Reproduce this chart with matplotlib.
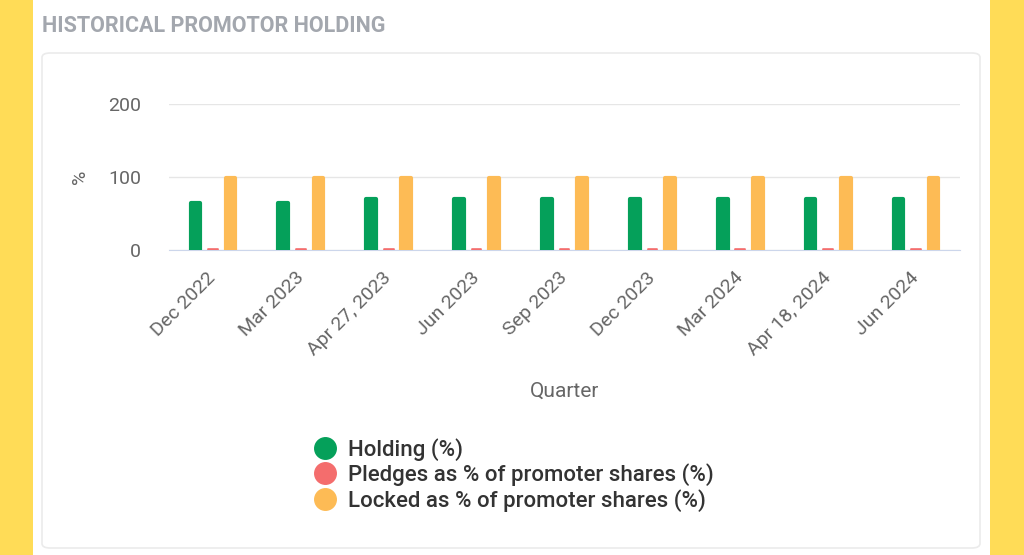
""" Historical promotor holding chart """

import matplotlib.pyplot as plt
from matplotlib import patches
import numpy as np

quarters = ["Dec 2022", "Mar 2023", "Apr 27, 2023", "Jun 2023", "Sep 2023",
            "Dec 2023", "Mar 2024", "Apr 18, 2024", "Jun 2024"]
holding = [65, 65, 70.5, 70.5, 70.5, 70.5, 70.5, 70.5, 70.5]
pledges = [1.5, 1.5, 1.5, 1.5, 1.5, 1.5, 1.5, 1.5, 1.5]
locked = [98.5, 98.5, 98.5, 98.5, 98.5, 98.5, 98.5, 98.5, 98.5]

series = [
    ("Holding (%)", holding, "#05a05a"),
    ("Pledges as % of promoter shares (%)", pledges, "#f46d6d"),
    ("Locked as % of promoter shares (%)", locked, "#fdbb55"),
]

plt.rcParams['font.family'] = ['Roboto', 'DejaVu Sans']

fig = plt.figure(figsize=(10.24, 5.55), dpi=100, facecolor="#ffdc57")

# white page and the card border
fig.patches.append(patches.Rectangle((33 / 1024, 0), 957 / 1024, 1,
                                     transform=fig.transFigure,
                                     facecolor="white", edgecolor="none", zorder=-3))
fig.patches.append(patches.FancyBboxPatch((42 / 1024, 7 / 555), 938 / 1024, 495 / 555,
                                          boxstyle="round,pad=0,rounding_size=0.008",
                                          transform=fig.transFigure,
                                          facecolor="white", edgecolor="#ebebeb",
                                          linewidth=1.2, zorder=-2))

fig.text(42 / 1024, 1 - 26 / 555, "HISTORICAL PROMOTOR HOLDING", fontsize=15.5,
         fontweight="bold", color="#a3a7ae", va="center", ha="left")

ax = fig.add_axes([169 / 1024, 1 - 250 / 555, 791 / 1024, 146 / 555])
ax.set_facecolor("none")

x = np.arange(len(quarters))
offsets = [-0.2, 0.0, 0.2]
edge_widths = [3, 1.2, 3]
width = 0.11
for (name, vals, color), off, lw in zip(series, offsets, edge_widths):
    ax.bar(x + off, vals, width=width, color=color, edgecolor=color,
           linewidth=lw, joinstyle="round", label=name, zorder=3)

ax.set_xlim(-0.5, len(quarters) - 0.5)
ax.set_ylim(0, 200)
ax.set_yticks([0, 100, 200])
ax.set_xticks(x)
ax.set_xticklabels(quarters, rotation=45, ha="right", va="center",
                   rotation_mode="anchor")
ax.tick_params(axis="both", length=0, colors="#666666", labelsize=14)
ax.tick_params(axis="y", pad=20)
ax.tick_params(axis="x", pad=18)
ax.grid(axis="y", color="#e6e6e6", linewidth=1, zorder=0)
for side in ["top", "right", "left"]:
    ax.spines[side].set_visible(False)
ax.spines["bottom"].set_color("#ccd6eb")
ax.spines["bottom"].set_zorder(2)

ax.set_ylabel("%", color="#666666", fontsize=14, labelpad=14)
ax.set_xlabel("Quarter", color="#666666", fontsize=15, labelpad=16)

handles = [plt.Line2D([], [], marker="o", linestyle="none", markersize=15.5,
                      markerfacecolor=c, markeredgecolor=c) for _, _, c in series]
leg = fig.legend(handles, [s[0] for s in series], loc="upper left",
                 bbox_to_anchor=(292 / 1024, 1 - 418 / 555), frameon=False,
                 fontsize=16, handletextpad=0.4, labelspacing=0.12,
                 handlelength=1.2)
for t in leg.get_texts():
    t.set_color("#333333")
    t.set_fontweight("medium")

plt.savefig("out.png", dpi=100, facecolor=fig.get_facecolor())
